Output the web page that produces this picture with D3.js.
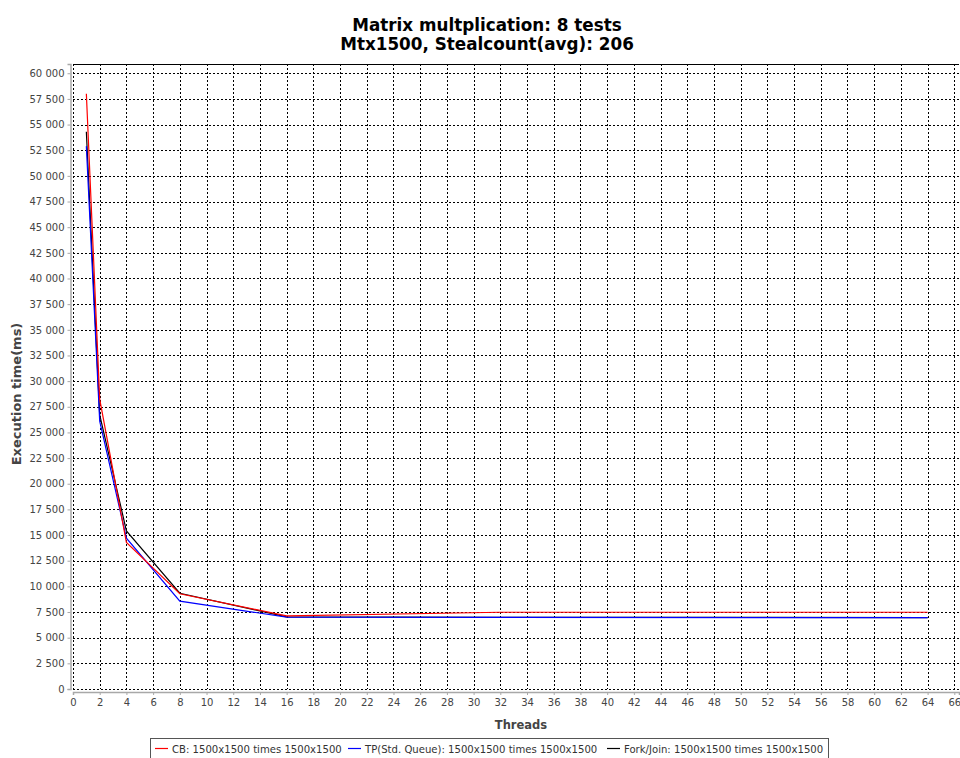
<!DOCTYPE html>
<html>
<head>
<meta charset="utf-8">
<script src="https://cdn.jsdelivr.net/npm/d3@7"></script>
<style>
  html, body { margin: 0; padding: 0; background: #fff; }
  svg { display: block; font-family: "DejaVu Sans", Verdana, sans-serif; }
</style>
</head>
<body>
<svg id="chart" width="960" height="758"></svg>
<script>
// Thread counts used in each run
const threads = [1, 2, 4, 8, 16, 32, 64];

// Execution time (ms) per thread count for each scheduler
const cbTimes = [58000, 28250, 14270, 9280, 7120, 7480, 7480];
const tpTimes = [52900, 26100, 14690, 8560, 7000, 6980, 6950];
const fjTimes = [54300, 26700, 15400, 9330, 7030, 6990, 6960];

const seriesNames = [
  "CB: 1500x1500 times 1500x1500",
  "TP(Std. Queue): 1500x1500 times 1500x1500",
  "Fork/Join: 1500x1500 times 1500x1500"
];
const seriesColors = ["#ff0000", "#0000ff", "#000000"];

const titleLines = ["Matrix multplication: 8 tests", "Mtx1500, Stealcount(avg): 206"];
const xTicks = d3.range(0, 67, 2);
const yTicks = d3.range(0, 60001, 2500);

const svg = d3.select("#chart");
const plot = { left: 73, right: 959, top: 64, bottom: 689 };

const x = d3.scaleLinear().domain([0, 66.35]).range([plot.left, plot.right]);
const y = d3.scaleLinear().domain([0, 60900]).range([plot.bottom, plot.top]);

const fmt = v => d3.format(",")(v).replace(/,/g, " ");

// Title
svg.append("g").selectAll("text").data(titleLines).join("text")
  .attr("x", 487).attr("y", (d, i) => 31 + i * 19)
  .attr("text-anchor", "middle")
  .attr("font-size", 16.8).attr("font-weight", "bold")
  .attr("fill", "#000")
  .text(d => d);

// Plot background
svg.append("rect")
  .attr("x", plot.left).attr("y", plot.top)
  .attr("width", plot.right - plot.left).attr("height", plot.bottom - plot.top)
  .attr("fill", "#fff");

// Gridlines
const grid = svg.append("g").attr("shape-rendering", "crispEdges")
  .attr("stroke", "#000").attr("stroke-width", 1).attr("stroke-dasharray", "2,2");
grid.selectAll("line.v").data(xTicks).join("line").attr("class", "v")
  .attr("x1", d => Math.round(x(d)) + 0.5).attr("x2", d => Math.round(x(d)) + 0.5)
  .attr("y1", plot.top).attr("y2", plot.bottom);
grid.selectAll("line.h").data(yTicks).join("line").attr("class", "h")
  .attr("y1", d => Math.round(y(d)) + 0.5).attr("y2", d => Math.round(y(d)) + 0.5)
  .attr("x1", plot.left).attr("x2", plot.right);

// Top outline of the plot area
svg.append("line")
  .attr("x1", plot.left).attr("x2", plot.right)
  .attr("y1", plot.top + 0.5).attr("y2", plot.top + 0.5)
  .attr("stroke", "#000").attr("stroke-width", 1);

// Y axis
const yAxis = d3.axisLeft(y).tickValues(yTicks).tickFormat(fmt).tickSize(3).tickPadding(3);
const gy = svg.append("g").attr("transform", `translate(${plot.left - 2.5},0)`).call(yAxis);
gy.select(".domain").attr("stroke", "#a8a8a8").attr("stroke-width", 1.5);
gy.selectAll(".tick line").attr("stroke", "#a8a8a8");
gy.selectAll(".tick text").attr("font-size", 10).attr("fill", "#444")
  .attr("font-family", "DejaVu Sans, sans-serif");

// X axis
const xAxis = d3.axisBottom(x).tickValues(xTicks).tickSize(3).tickPadding(4);
const gx = svg.append("g").attr("transform", `translate(0,${plot.bottom + 3})`).call(xAxis);
gx.select(".domain").attr("stroke", "#a8a8a8").attr("stroke-width", 1.5);
gx.selectAll(".tick line").attr("stroke", "#a8a8a8");
gx.selectAll(".tick text").attr("font-size", 10).attr("fill", "#444")
  .attr("font-family", "DejaVu Sans, sans-serif");

// Axis titles
svg.append("text")
  .attr("x", 521).attr("y", 729)
  .attr("text-anchor", "middle").attr("font-size", 11.5).attr("font-weight", "bold")
  .attr("fill", "#444").text("Threads");
svg.append("text")
  .attr("transform", "translate(21,394) rotate(-90)")
  .attr("text-anchor", "middle").attr("font-size", 13).attr("font-weight", "bold")
  .attr("fill", "#444").text("Execution time(ms)");

// Series lines (first series drawn on top)
const series = [cbTimes, tpTimes, fjTimes].map((vals, i) => ({
  name: seriesNames[i], color: seriesColors[i],
  points: threads.map((t, j) => ({ t, v: vals[j] }))
}));
const line = d3.line().x(d => x(d.t)).y(d => y(d.v));
svg.append("g").selectAll("path").data(series.slice().reverse()).join("path")
  .attr("d", d => line(d.points))
  .attr("fill", "none")
  .attr("stroke", d => d.color)
  .attr("stroke-width", 1.2);

// Legend
const legend = svg.append("g");
legend.append("rect")
  .attr("x", 150.5).attr("y", 738.5).attr("width", 678).attr("height", 30)
  .attr("fill", "#fff").attr("stroke", "#555").attr("stroke-width", 1);
const legendX = [155, 348, 607];
const items = legend.selectAll("g.item").data(series).join("g").attr("class", "item")
  .attr("transform", (d, i) => `translate(${legendX[i]},0)`);
items.append("line")
  .attr("x1", 0).attr("x2", 13).attr("y1", 748.5).attr("y2", 748.5)
  .attr("stroke", d => d.color).attr("stroke-width", 1.2);
items.append("text")
  .attr("x", 17).attr("y", 752.5)
  .attr("font-size", 10.1).attr("fill", "#333")
  .text(d => d.name);
</script>
</body>
</html>
